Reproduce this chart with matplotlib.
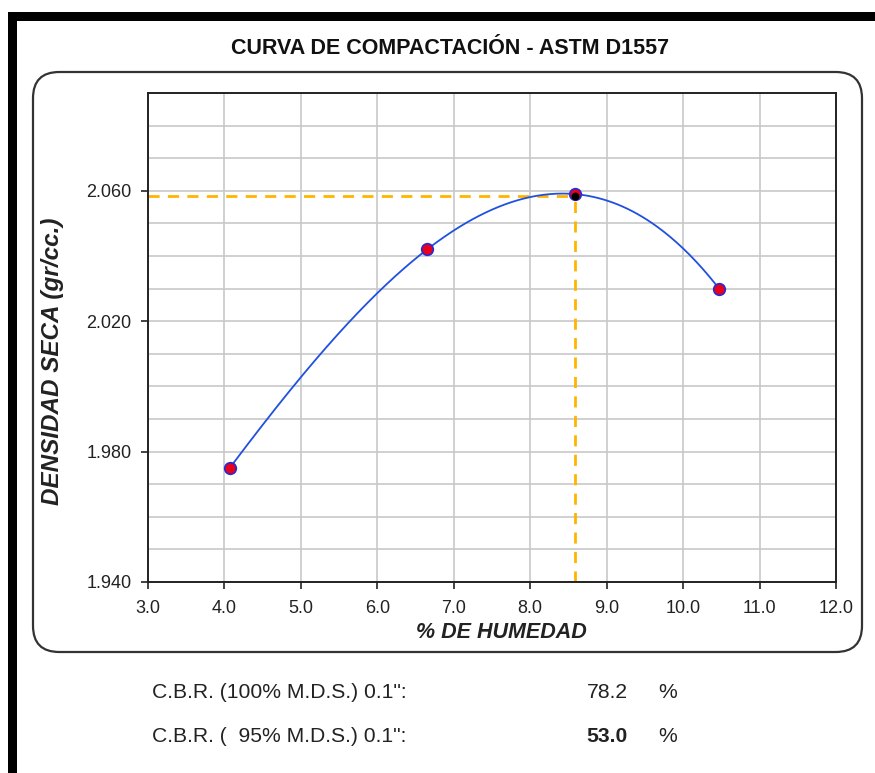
import matplotlib
matplotlib.use("Agg")
import matplotlib.pyplot as plt
from matplotlib.patches import FancyBboxPatch, Rectangle
from matplotlib.ticker import MultipleLocator, FixedLocator, FormatStrFormatter
import numpy as np

# puntos del ensayo proctor
humedad = [4.07, 6.65, 8.58, 10.47]
densidad = [1.975, 2.042, 2.059, 2.030]

# optimo contenido de humedad / maxima densidad seca
och = 8.58
mds = 2.0585

y_ticks = [1.940, 1.980, 2.020, 2.060]

cbr_labels = ['C.B.R. (100% M.D.S.) 0.1":', 'C.B.R. (  95% M.D.S.) 0.1":']
cbr_values = ["78.2", "53.0"]

plt.rcParams["font.family"] = ["Liberation Sans", "DejaVu Sans"]

fig = plt.figure(figsize=(8.75, 7.73), dpi=100)
W, H = 875, 773

def fx(px):
    return px / W

def fy(py):
    return 1 - py / H

# marco negro de la hoja
fig.add_artist(Rectangle((fx(8), fy(21)), fx(867), 9 / H, transform=fig.transFigure,
                         facecolor="black", edgecolor="none"))
fig.add_artist(Rectangle((fx(8), 0), 9 / W, fy(12), transform=fig.transFigure,
                         facecolor="black", edgecolor="none"))

# cuadro redondeado
box = FancyBboxPatch((fx(33), fy(652)), fx(862 - 33), (652 - 72) / H,
                     boxstyle="round,pad=0,rounding_size=0.03",
                     transform=fig.transFigure, facecolor="none",
                     edgecolor="#333333", linewidth=1.6, mutation_aspect=W / H)
fig.add_artist(box)

fig.text(fx(450), fy(48), "CURVA DE COMPACTACIÓN - ASTM D1557", ha="center", va="center",
         fontsize=15.5, fontweight="bold", color="#111111")

ax = fig.add_axes([fx(148), fy(582), fx(836 - 148), (582 - 93) / H])

# curva ajustada (polinomio por los puntos)
coef = np.polyfit(humedad, densidad, 3)
xs = np.linspace(min(humedad), max(humedad), 300)
ax.plot(xs, np.polyval(coef, xs), color="#2050e0", linewidth=1.3, zorder=3)

ax.plot([3.0, och], [mds, mds], color="#FFB400", linestyle=(0, (4, 3)), linewidth=2, zorder=2)
ax.plot([och, och], [1.94, mds], color="#FFB400", linestyle=(0, (4, 3)), linewidth=2, zorder=2)

ax.scatter(humedad, densidad, s=70, color="#e8001c", edgecolors="#2a2ad0", linewidths=1.2, zorder=4)
ax.scatter([och], [mds], s=22, color="black", zorder=5)

ax.set_xlim(3.0, 12.0)
ax.set_ylim(1.94, 2.09)
ax.xaxis.set_major_locator(MultipleLocator(1.0))
ax.yaxis.set_major_locator(FixedLocator(y_ticks))
ax.yaxis.set_minor_locator(MultipleLocator(0.01))
ax.xaxis.set_major_formatter(FormatStrFormatter("%.1f"))
ax.yaxis.set_major_formatter(FormatStrFormatter("%.3f"))
ax.grid(True, which="both", color="#c8c8c8", linewidth=1.2)
ax.set_axisbelow(True)
ax.tick_params(which="major", direction="out", length=5, width=1.2, labelsize=13, colors="#222222")
ax.tick_params(axis="x", pad=8)
ax.tick_params(axis="y", pad=7)
ax.tick_params(which="minor", length=0)
for s in ax.spines.values():
    s.set_linewidth(1.4)
    s.set_color("#222222")

fig.text(fx(501), fy(632), "% DE HUMEDAD", ha="center", va="center", fontsize=15.5,
         fontweight="bold", style="italic", color="#222222")
fig.text(fx(53), fy(361), "DENSIDAD SECA (gr/cc.)", ha="center", va="center", rotation=90,
         fontsize=17.5, fontweight="bold", style="italic", color="#222222")

for i, (lab, val) in enumerate(zip(cbr_labels, cbr_values)):
    yy = fy(693 + 43 * i)
    fig.text(fx(152), yy, lab, ha="left", va="center", fontsize=15.2, color="#222222")
    fig.text(fx(628), yy, val, ha="right", va="center", fontsize=15.2, color="#222222",
             fontweight="bold" if i == 1 else "normal")
    fig.text(fx(658), yy, "%", ha="left", va="center", fontsize=15.2, color="#222222")

fig.savefig("out.png", dpi=100)
